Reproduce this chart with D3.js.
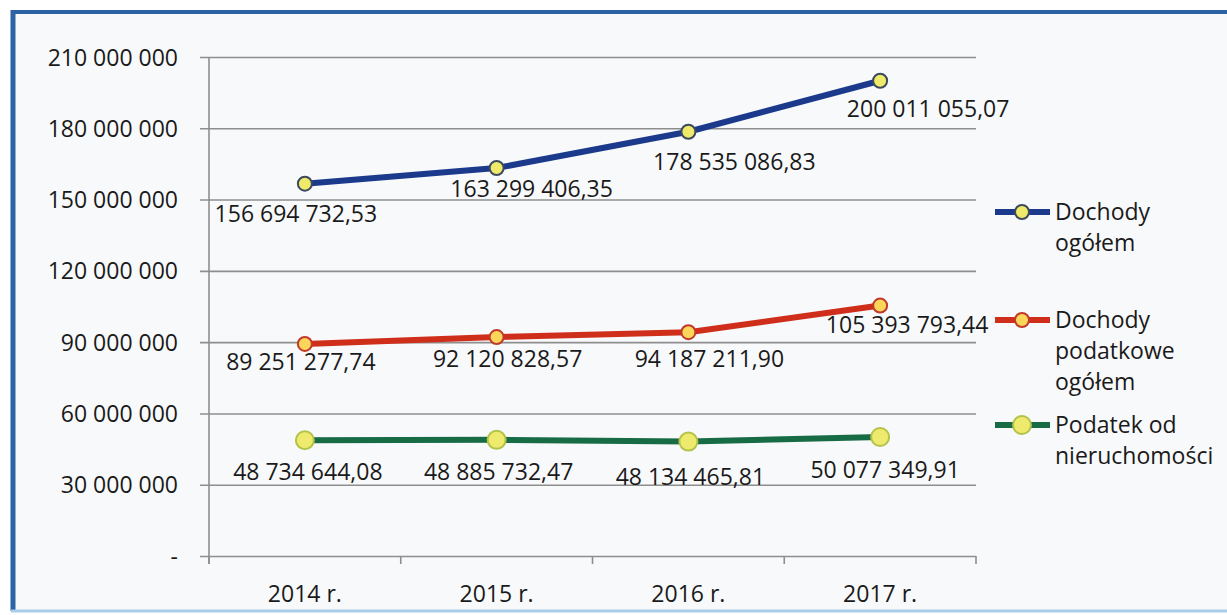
<!DOCTYPE html>
<html>
<head>
<meta charset="utf-8">
<script src="https://cdn.jsdelivr.net/npm/d3@7"></script>
<style>
  html, body { margin: 0; padding: 0; background: #fbfcfd; }
  text { font-family: "Open Sans", "Noto Sans", sans-serif; fill: #1a1a1a; }
</style>
</head>
<body>
<svg id="chart" width="1227" height="615"></svg>
<script>
// data
const years = ["2014 r.", "2015 r.", "2016 r.", "2017 r."];
const dochodyOgolem = [156694732.53, 163299406.35, 178535086.83, 200011055.07];
const dochodyPodatkowe = [89251277.74, 92120828.57, 94187211.90, 105393793.44];
const podatekNieruch = [48734644.08, 48885732.47, 48134465.81, 50077349.91];
const yTicks = [0, 30000000, 60000000, 90000000, 120000000, 150000000, 180000000, 210000000];
const seriesNames = [["Dochody", "ogółem"], ["Dochody", "podatkowe", "ogółem"], ["Podatek od", "nieruchomości"]];

// label nudges, per series / per point [dx, dy]
const labelOffsets = [
  [[-9, 38], [35, 29], [46, 38], [48, 36]],
  [[-4, 26], [11, 30], [21, 35], [27, 27]],
  [[3, 40], [2, 40], [2, 43], [5, 41]]
];

const series = [
  { values: dochodyOgolem, color: "#1b3a8c", mFill: "#f0ea6a", mStroke: "#3b4a5e", r: 7 },
  { values: dochodyPodatkowe, color: "#cf2e1a", mFill: "#fcd65a", mStroke: "#c0392b", r: 7 },
  { values: podatekNieruch, color: "#176b45", mFill: "#eeea6e", mStroke: "#b4c24a", r: 9 }
];

const svg = d3.select("#chart");

const plotLeft = 209, plotRight = 976, plotTop = 57, plotBottom = 556;

const x = d3.scaleBand().domain(years).range([plotLeft, plotRight]).padding(0);
const y = d3.scaleLinear().domain([0, 210000000]).range([plotBottom, plotTop]);
const cx = d => x(d) + x.bandwidth() / 2;

const fmt = v => v === 0 ? "-" : d3.format(",")(v).replace(/,/g, " ");
const fmtLabel = v => d3.format(",.2f")(v).replace(/,/g, " ").replace(".", ",");

// frame
svg.append("rect").attr("x", 0).attr("y", 0).attr("width", 1227).attr("height", 615).attr("fill", "#ffffff");
svg.append("rect").attr("x", 13).attr("y", 12).attr("width", 1214).attr("height", 598).attr("fill", "#f8f9fb");
svg.append("line").attr("x1", 11).attr("x2", 1227).attr("y1", 12).attr("y2", 12)
  .attr("stroke", "#2b63a3").attr("stroke-width", 4);
svg.append("line").attr("x1", 13).attr("x2", 13).attr("y1", 10).attr("y2", 611)
  .attr("stroke", "#2b63a3").attr("stroke-width", 5);
svg.append("line").attr("x1", 11).attr("x2", 1227).attr("y1", 611).attr("y2", 611)
  .attr("stroke", "#a9cdea").attr("stroke-width", 3);

// y axis + grid
const yAxis = svg.append("g")
  .attr("transform", `translate(${plotLeft},0)`)
  .call(d3.axisLeft(y).tickValues(yTicks).tickFormat(fmt).tickSizeOuter(0));
yAxis.select(".domain").remove();
yAxis.selectAll(".tick line")
  .attr("x1", -9).attr("x2", plotRight - plotLeft)
  .attr("stroke", "#8e8e8e").attr("stroke-width", 1.6);
yAxis.selectAll(".tick text")
  .attr("x", -31).attr("dy", "0.35em")
  .style("font-size", "23px");

svg.append("line").attr("x1", plotLeft).attr("x2", plotLeft).attr("y1", plotTop).attr("y2", plotBottom + 8)
  .attr("stroke", "#8e8e8e").attr("stroke-width", 1.6);

// x axis
const xAxis = svg.append("g")
  .attr("transform", `translate(0,${plotBottom})`)
  .call(d3.axisBottom(x).tickSize(0).tickPadding(30));
xAxis.select(".domain").remove();
xAxis.selectAll(".tick text").style("font-size", "23px");

svg.append("g").selectAll("line")
  .data(years.map(d => x(d) + x.bandwidth()).concat([plotLeft]))
  .join("line")
  .attr("x1", d => d).attr("x2", d => d)
  .attr("y1", plotBottom).attr("y2", plotBottom + 8)
  .attr("stroke", "#8e8e8e").attr("stroke-width", 1.6);

// lines, markers, labels
const line = d3.line().x((d, i) => cx(years[i])).y(d => y(d));

series.forEach((s, si) => {
  const g = svg.append("g");
  g.append("path").datum(s.values)
    .attr("d", line)
    .attr("fill", "none")
    .attr("stroke", s.color)
    .attr("stroke-width", 6)
    .attr("stroke-linejoin", "round");
  g.selectAll("circle").data(s.values).join("circle")
    .attr("cx", (d, i) => cx(years[i]))
    .attr("cy", d => y(d))
    .attr("r", s.r)
    .attr("fill", s.mFill)
    .attr("stroke", s.mStroke)
    .attr("stroke-width", 2);
  g.selectAll("text").data(s.values).join("text")
    .attr("x", (d, i) => cx(years[i]) + labelOffsets[si][i][0])
    .attr("y", (d, i) => y(d) + labelOffsets[si][i][1])
    .attr("text-anchor", "middle")
    .style("font-size", "23px")
    .text(fmtLabel);
});

// legend
const legendRows = [212, 320, 425];
series.forEach((s, si) => {
  const ly = legendRows[si];
  const g = svg.append("g");
  g.append("line").attr("x1", 995).attr("x2", 1050).attr("y1", ly).attr("y2", ly)
    .attr("stroke", s.color).attr("stroke-width", 6);
  g.append("circle").attr("cx", 1022).attr("cy", ly).attr("r", s.r)
    .attr("fill", s.mFill).attr("stroke", s.mStroke).attr("stroke-width", 2);
  g.selectAll("text").data(seriesNames[si]).join("text")
    .attr("x", 1055)
    .attr("y", (d, i) => ly + 8 + i * 31)
    .style("font-size", "23px")
    .text(d => d);
});
</script>
</body>
</html>
